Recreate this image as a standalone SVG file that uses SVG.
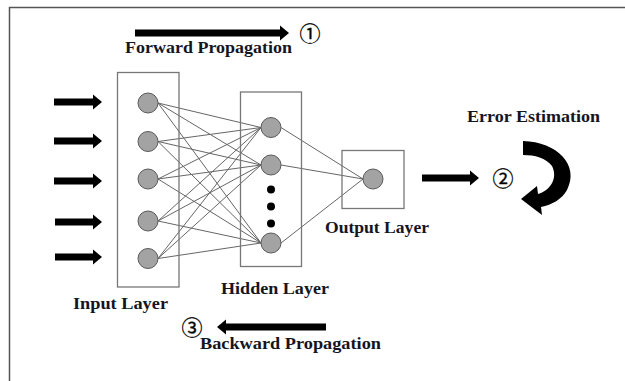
<svg xmlns="http://www.w3.org/2000/svg" width="625" height="381" viewBox="0 0 625 381">
  <style>
    .frame { fill: none; stroke: #555; stroke-width: 1.5; }
    .layer { fill: none; stroke: #777; stroke-width: 1.3; }
    .neuron { fill: #a3a3a3; stroke: #5a5a5a; stroke-width: 1; }
    .dot { fill: #000; }
    .edge { stroke: #666; stroke-width: 1; fill: none; }
    .arrow { fill: #000; }
    .label { font-family: "Liberation Serif", "Times New Roman", serif; font-weight: bold; font-size: 17.5px; fill: #15151f; }
    .num { font-family: "Noto Sans CJK JP", "DejaVu Sans", sans-serif; font-size: 21px; fill: #000; stroke: #000; stroke-width: 0.3; text-anchor: middle; }
  </style>
  <defs>
    <!-- thick block arrow pointing right, tip at origin -->
    <polygon id="headR" points="-9,-7.5 0,0 -9,7.5 -9,3.5 -9,-3.5"/>
  </defs>

  <rect width="625" height="381" fill="#fff"/>
  <path class="frame" d="M9.5 381 V7.5 H625"/>

  <!-- connectors between neurons -->
  <g id="connectors">
    <!-- input to hidden -->
    <line class="edge" x1="158" y1="103" x2="261" y2="127.5"/>
    <line class="edge" x1="158" y1="103" x2="261" y2="165"/>
    <line class="edge" x1="158" y1="103" x2="261" y2="243"/>
    <line class="edge" x1="158" y1="141.5" x2="261" y2="127.5"/>
    <line class="edge" x1="158" y1="141.5" x2="261" y2="165"/>
    <line class="edge" x1="158" y1="141.5" x2="261" y2="243"/>
    <line class="edge" x1="158" y1="179" x2="261" y2="127.5"/>
    <line class="edge" x1="158" y1="179" x2="261" y2="165"/>
    <line class="edge" x1="158" y1="179" x2="261" y2="243"/>
    <line class="edge" x1="158" y1="221" x2="261" y2="127.5"/>
    <line class="edge" x1="158" y1="221" x2="261" y2="165"/>
    <line class="edge" x1="158" y1="221" x2="261" y2="243"/>
    <line class="edge" x1="158" y1="258.5" x2="261" y2="127.5"/>
    <line class="edge" x1="158" y1="258.5" x2="261" y2="165"/>
    <line class="edge" x1="158" y1="258.5" x2="261" y2="243"/>
    <!-- hidden to output -->
    <line class="edge" x1="281" y1="127.5" x2="363" y2="179"/>
    <line class="edge" x1="281" y1="165" x2="363" y2="179"/>
    <line class="edge" x1="281" y1="243" x2="363" y2="179"/>
  </g>

  <!-- input arrows -->
  <g id="inputs">
    <rect class="arrow" x="54" y="98.5" width="39" height="7"/><use href="#headR" x="102" y="102"/>
    <rect class="arrow" x="54" y="137.5" width="39" height="7"/><use href="#headR" x="102" y="141"/>
    <rect class="arrow" x="54" y="177.5" width="39" height="7"/><use href="#headR" x="102" y="181"/>
    <rect class="arrow" x="55" y="218.5" width="38" height="7"/><use href="#headR" x="102" y="222"/>
    <rect class="arrow" x="55" y="253.5" width="38" height="7"/><use href="#headR" x="102" y="257"/>
  </g>

  <g id="input-layer">
    <rect class="layer" x="117.5" y="72.5" width="61.5" height="214.5"/>
    <circle class="neuron" cx="148" cy="103" r="10"/>
    <circle class="neuron" cx="148" cy="141.5" r="10"/>
    <circle class="neuron" cx="148" cy="179" r="10"/>
    <circle class="neuron" cx="148" cy="221" r="10"/>
    <circle class="neuron" cx="148" cy="258.5" r="10"/>
    <text class="label" x="73" y="309" textLength="95" lengthAdjust="spacingAndGlyphs">Input Layer</text>
  </g>

  <g id="hidden-layer">
    <rect class="layer" x="240.5" y="92" width="61" height="174.5"/>
    <circle class="neuron" cx="271" cy="127.5" r="10"/>
    <circle class="neuron" cx="271" cy="165" r="10"/>
    <circle class="dot" cx="271" cy="189.5" r="4"/>
    <circle class="dot" cx="271" cy="206.5" r="4"/>
    <circle class="dot" cx="271" cy="223.5" r="4"/>
    <circle class="neuron" cx="271" cy="243" r="10"/>
    <text class="label" x="221" y="294" textLength="108" lengthAdjust="spacingAndGlyphs">Hidden Layer</text>
  </g>

  <g id="output-layer">
    <rect class="layer" x="342" y="150.5" width="62" height="58"/>
    <circle class="neuron" cx="373" cy="179" r="10"/>
    <text class="label" x="325" y="233" textLength="104" lengthAdjust="spacingAndGlyphs">Output Layer</text>
  </g>

  <g id="forward">
    <rect class="arrow" x="135" y="29.5" width="145" height="7"/><use href="#headR" x="289" y="33"/>
    <text class="num" x="310" y="41">①</text>
    <text class="label" x="125" y="53" textLength="167" lengthAdjust="spacingAndGlyphs">Forward Propagation</text>
  </g>

  <g id="error">
    <rect class="arrow" x="422" y="174.5" width="48" height="7"/><use href="#headR" x="479" y="178"/>
    <text class="num" x="503" y="186">②</text>
    <path class="arrow" d="M523 141 C557 142 580 165 567 190 C562 199 552 205 541 207 L542 215 L521 199 L537 186 L538 194 C551 190 558 178 552 166 C546 158 535 155 523 155 Z"/>
    <text class="label" x="467" y="122" textLength="133" lengthAdjust="spacingAndGlyphs">Error Estimation</text>
  </g>

  <g id="backward">
    <rect class="arrow" x="226" y="323.5" width="100" height="7"/><use href="#headR" x="217" y="327" transform="rotate(180 217 327)"/>
    <text class="num" x="192" y="335">③</text>
    <text class="label" x="200" y="349" textLength="181" lengthAdjust="spacingAndGlyphs">Backward Propagation</text>
  </g>
</svg>
